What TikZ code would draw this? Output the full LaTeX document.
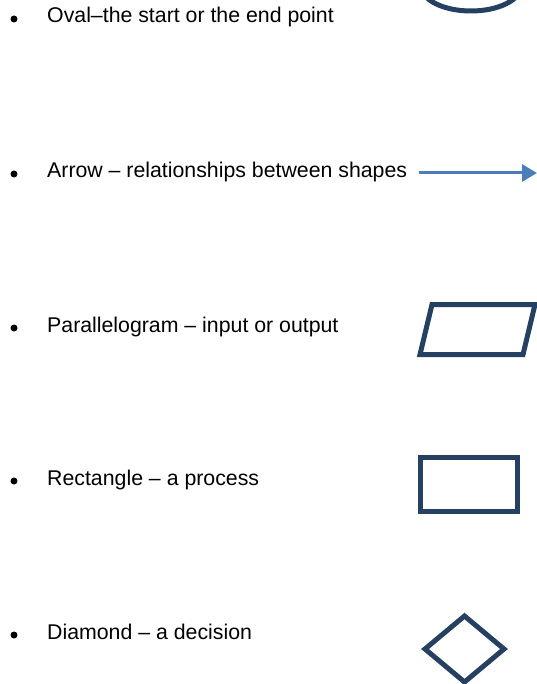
\documentclass[tikz,border=0pt]{standalone}
\usepackage{fontspec}
\setmainfont{Liberation Sans}
\usetikzlibrary{shapes.geometric,arrows.meta}
\definecolor{shapenavy}{RGB}{38,64,98}
\definecolor{arrowblue}{RGB}{74,126,187}
\tikzset{
  item/.style={anchor=base west, inner sep=0pt, font=\fontsize{21.3}{25}\selectfont, text=black},
  dot/.style={circle, fill=black, inner sep=0pt, minimum size=7pt},
  symbol/.style={draw=shapenavy, line width=5pt, miter limit=10},
}
\begin{document}
\begin{tikzpicture}[x=1pt, y=-1pt]
  \useasboundingbox (0,0) rectangle (537,684);
  \clip (0,0) rectangle (537,684);

  % bullet list entries
  \node[dot] (b1) at (14,19) {};
  \node[item] (t1) at (47,23) {Oval–the start or the end point};
  \node[dot] (b2) at (14,174) {};
  \node[item] (t2) at (47,178) {Arrow – relationships between shapes};
  \node[dot] (b3) at (14,328) {};
  \node[item] (t3) at (47,332) {Parallelogram – input or output};
  \node[dot] (b4) at (14,481) {};
  \node[item] (t4) at (47,485) {Rectangle – a process};
  \node[dot] (b5) at (14,635) {};
  \node[item] (t5) at (47,639) {Diamond – a decision};

  % oval: start / end
  \node[symbol, ellipse, minimum width=100pt, minimum height=50pt, inner sep=0pt] (oval) at (471,-14) {};

  % arrow
  \coordinate (arrS) at (419,173);
  \coordinate (arrE) at (537,173);
  \draw[arrowblue, line width=3pt, -{Triangle[length=15pt, width=17pt]}] (arrS) -- (arrE);

  % parallelogram: input / output
  \draw[symbol, line join=miter] (432,304.5) -- (535,304.5) -- (523,354.5) -- (420,354.5) -- cycle;

  % rectangle: process
  \node[symbol, rectangle, minimum width=97pt, minimum height=54pt, inner sep=0pt] (proc) at (469,484.5) {};

  % diamond: decision
  \draw[symbol, line join=miter] (464.5,616) -- (504,649) -- (464.5,682) -- (425,649) -- cycle;
\end{tikzpicture}
\end{document}
